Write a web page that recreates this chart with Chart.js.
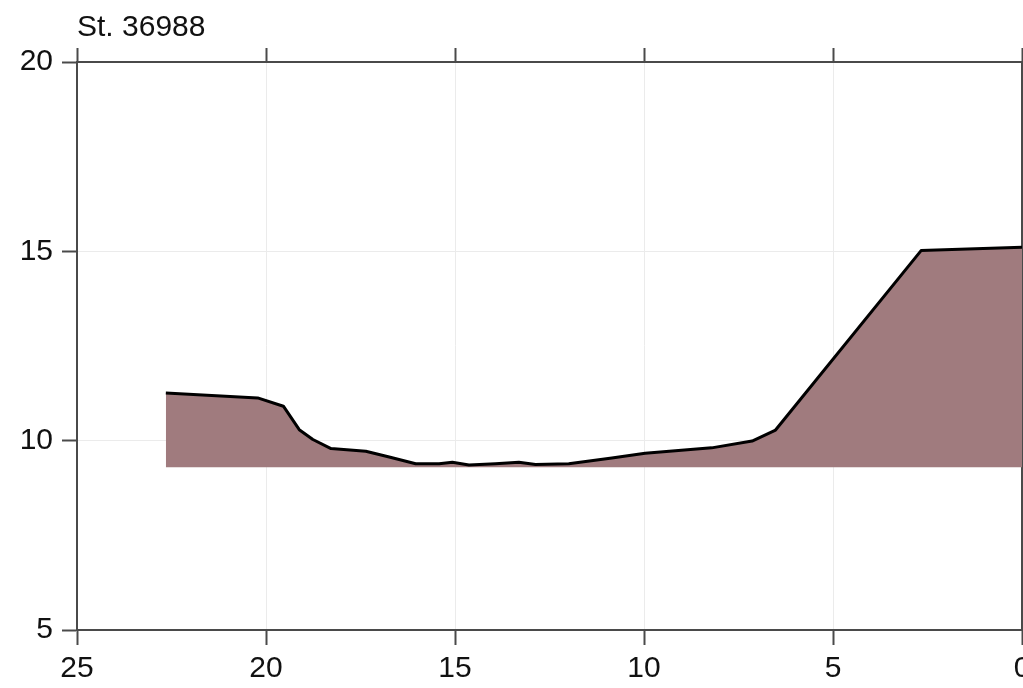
<!DOCTYPE html>
<html>
<head>
<meta charset="utf-8">
<script src="https://cdn.jsdelivr.net/npm/chart.js@4/dist/chart.umd.min.js"></script>
<style>
  html, body { margin: 0; padding: 0; background: #fff; overflow: hidden; }
  #wrap { position: absolute; left: 0; top: 0; }
</style>
</head>
<body>
<div id="wrap"><canvas id="profile" width="1042" height="688"></canvas></div>
<script>
// station label
const stationName = 'St. 36988';

// cross-section: distance (reversed axis) and bed elevation
const dist = [22.65, 20.22, 19.54, 19.12, 18.76, 18.28, 17.36, 16.74, 16.04, 15.42, 15.07, 14.63,
  13.93, 13.31, 12.87, 11.99, 10.85, 9.97, 9.09, 8.21, 7.14, 6.52, 2.67, 0];
const elev = [11.26, 11.13, 10.91, 10.29, 10.03, 9.79, 9.72, 9.57, 9.39, 9.39, 9.43, 9.36,
  9.39, 9.43, 9.37, 9.39, 9.54, 9.67, 9.74, 9.81, 9.99, 10.28, 15.02, 15.11];
const fillBase = 9.3;

const xTicks = [0, 5, 10, 15, 20, 25];
const yTicks = [5, 10, 15, 20];

const axisColor = '#4a4a4a';
const gridColor = '#ebebeb';
const labelFont = { family: '"Liberation Sans", Arial, sans-serif', size: 30 };

const titlePlugin = {
  id: 'stationTitle',
  afterDraw(chart) {
    const ctx = chart.ctx;
    ctx.save();
    ctx.font = '30px "Liberation Sans", Arial, sans-serif';
    ctx.fillStyle = '#111';
    ctx.textAlign = 'left';
    ctx.textBaseline = 'alphabetic';
    ctx.fillText(stationName, chart.chartArea.left, 36);
    ctx.restore();
  }
};

const points = dist.map((d, i) => ({ x: d, y: elev[i] }));

new Chart(document.getElementById('profile'), {
  type: 'line',
  data: {
    datasets: [{
      data: points,
      borderColor: '#000',
      borderWidth: 3,
      backgroundColor: '#a07b7e',
      fill: { value: fillBase },
      pointRadius: 0,
      tension: 0,
      borderJoinStyle: 'round'
    }]
  },
  options: {
    responsive: false,
    animation: false,
    devicePixelRatio: 1,
    layout: { padding: { top: 48, right: 20, left: 0, bottom: 0 } },
    plugins: { legend: { display: false }, tooltip: { enabled: false } },
    scales: {
      x: {
        type: 'linear', position: 'bottom', reverse: true, min: 0, max: 25,
        afterBuildTicks: s => { s.ticks = xTicks.map(v => ({ value: v })); },
        afterFit: s => { s.height = 58; },
        ticks: { font: labelFont, color: '#111', padding: 6, maxRotation: 0 },
        grid: { color: gridColor, lineWidth: 1, tickColor: axisColor, tickWidth: 2, tickLength: 15 },
        border: { color: axisColor, width: 2 }
      },
      xTop: {
        type: 'linear', position: 'top', reverse: true, min: 0, max: 25,
        afterBuildTicks: s => { s.ticks = xTicks.map(v => ({ value: v })); },
        afterFit: s => { s.height = 14; },
        ticks: { display: false },
        grid: { drawOnChartArea: false, tickColor: axisColor, tickWidth: 2, tickLength: 14 },
        border: { color: axisColor, width: 2 }
      },
      y: {
        type: 'linear', position: 'left', min: 5, max: 20,
        afterBuildTicks: s => { s.ticks = yTicks.map(v => ({ value: v })); },
        afterFit: s => { s.width = 77; },
        ticks: { font: labelFont, color: '#111', padding: 9 },
        grid: { color: gridColor, lineWidth: 1, tickColor: axisColor, tickWidth: 2, tickLength: 15 },
        border: { color: axisColor, width: 2 }
      },
      yRight: {
        type: 'linear', position: 'right', min: 5, max: 20,
        afterFit: s => { s.width = 0; },
        ticks: { display: false },
        grid: { drawOnChartArea: false, drawTicks: false },
        border: { color: axisColor, width: 2 }
      }
    }
  },
  plugins: [titlePlugin]
});
</script>
</body>
</html>
